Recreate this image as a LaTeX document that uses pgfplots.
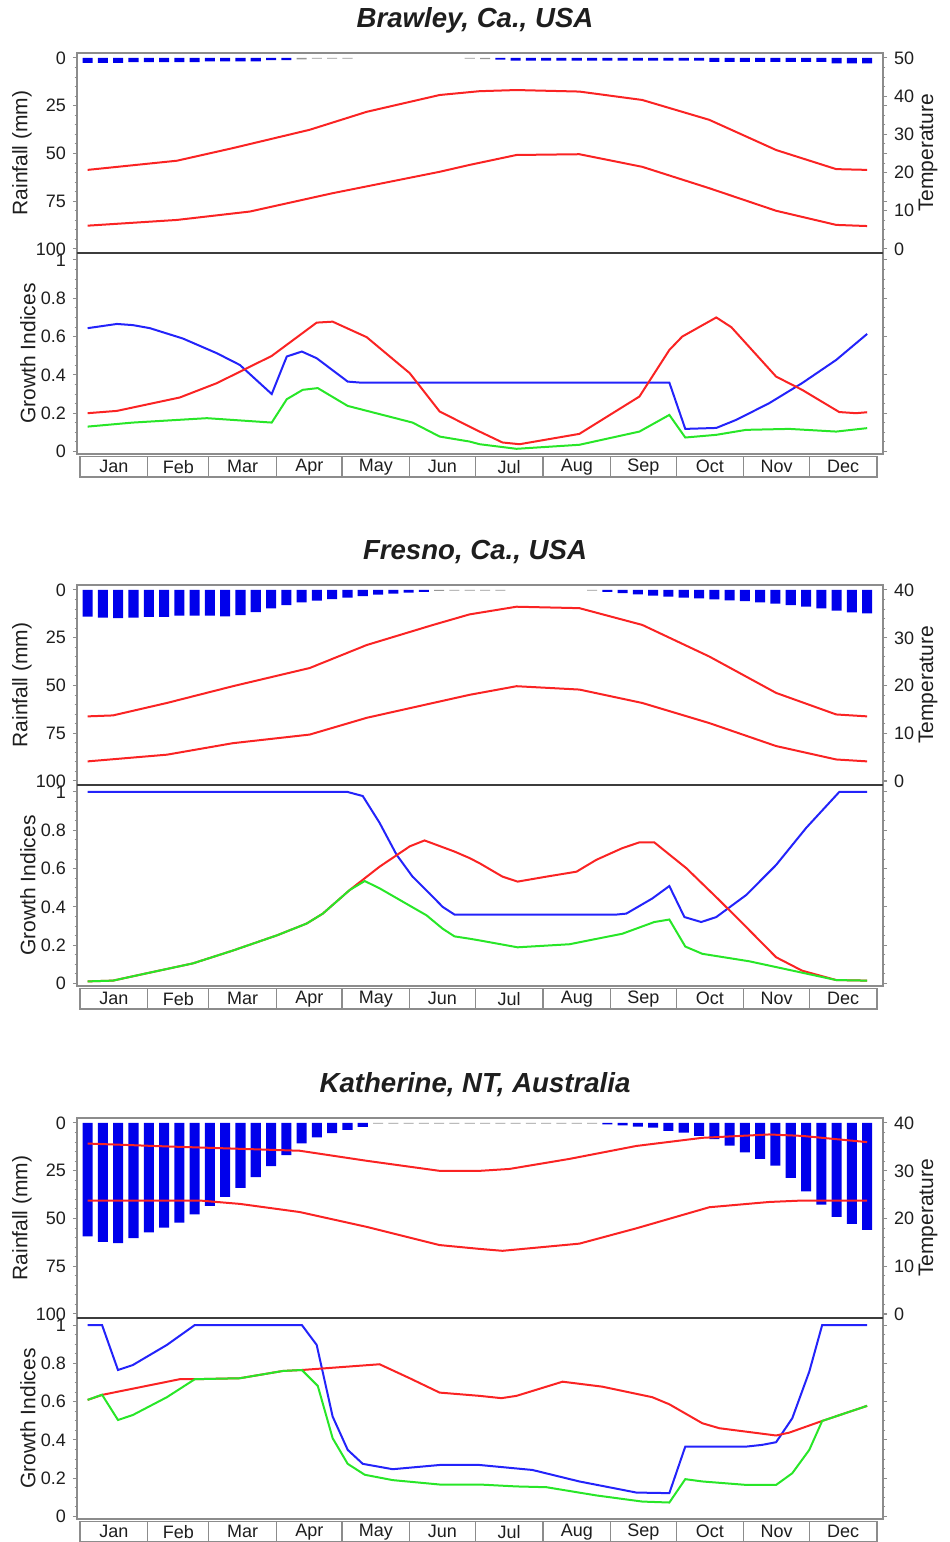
\documentclass[border=0pt]{standalone}
\usepackage{fontspec}
\setmainfont{Liberation Sans}
\usepackage{pgfplots}
\pgfplotsset{compat=1.18}

\definecolor{axgray}{RGB}{140,140,140}
\definecolor{sepcol}{RGB}{60,60,60}
\definecolor{txt}{RGB}{30,30,30}
\definecolor{lred}{RGB}{250,35,35}
\definecolor{lblue}{RGB}{35,35,250}
\definecolor{lgreen}{RGB}{40,230,40}
\definecolor{barblue}{RGB}{0,0,235}
\definecolor{bargray}{RGB}{150,150,150}

\pgfplotsset{
  panelbase/.style={
    scale only axis, width=403pt,
    xmin=-1.37, xmax=367.75, xtick=\empty,
    axis line style={axgray, line width=0.6pt},
    tick style={axgray, line width=0.5pt},
    tick align=outside, major tick length=2pt, minor tick length=1.2pt,
    ticklabel style={font=\fontsize{9}{10}\selectfont, text=txt},
    label style={font=\fontsize{10.5}{12}\selectfont, text=txt},
    /pgf/number format/assume math mode=true,
  },
  rainax/.style={panelbase, height=100pt, y dir=reverse, ymin=-2.6, ymax=102.1,
    ytick={0,25,50,75,100}, minor y tick num=4, ylabel={Rainfall (mm)},
    ylabel style={at={(axis description cs:-0.0682,0.5)}, anchor=center}},
  tempax/.style={panelbase, height=100pt, axis y line*=right, axis x line=none,
    ylabel={Temperature},
    ylabel style={at={(axis description cs:1.056,0.5)}, anchor=center}},
  growax/.style={panelbase, height=100.5pt, ymin=-0.013, ymax=1.0366,
    ytick={0,0.2,0.4,0.6,0.8,1}, minor y tick num=3, ylabel={Growth Indices},
    ylabel style={at={(axis description cs:-0.0608,0.5)}, anchor=center},
    after end axis/.code={\draw[sepcol, line width=0.9pt] (rel axis cs:0,1) -- (rel axis cs:1,1);}},
  monthax/.style={scale only axis, width=398.5pt, height=10.25pt,
    xmin=0, xmax=365, ymin=0, ymax=1,
    xtick={31,59,90,120,151,181,212,243,273,304,334}, xticklabels={},
    xmajorgrids, major tick length=0pt, ytick=\empty,
    grid style={axgray, line width=0.6pt}, axis line style={axgray, line width=0.6pt}},
  barb/.style={ybar, bar width=4.6, bar shift=0pt, fill=barblue, draw=none},
  barg/.style={ybar, bar width=4.6, bar shift=0pt, fill=bargray, draw=none},
  tline/.style={lred, line width=1pt},
  gblue/.style={lblue, line width=1pt},
  gred/.style={lred, line width=1pt},
  ggreen/.style={lgreen, line width=1pt},
  mlab/.style={draw=none, nodes near coords, point meta=explicit symbolic,
    every node near coord/.append style={anchor=center, font=\fontsize{9}{10}\selectfont, text=txt}},
}

\pgfplotstableread{
x y m
15.5 0.5 Jan
45 0.5 Feb
74.5 0.5 Mar
105 0.5 Apr
135.5 0.5 May
166 0.5 Jun
196.5 0.5 Jul
227.5 0.5 Aug
258 0.5 Sep
288.5 0.5 Oct
319 0.5 Nov
349.5 0.5 Dec
}\months

\begin{document}
\begin{tikzpicture}
\useasboundingbox (0,0) rectangle (474.5pt,771pt);

%% ---------------- Brawley ----------------
\node[font=\bfseries\itshape\fontsize{13.8}{16}\selectfont, text=txt] at (237.5pt,761pt) {Brawley, Ca., USA};
\begin{axis}[rainax, at={(38.5pt,744.5pt)}, anchor=north west]
\addplot[barb] coordinates {(3.5,2.6) (10.5,2.6) (17.5,2.6) (24.5,2.2) (31.5,2.2) (38.5,2.2) (45.5,2.2) (52.5,2.2) (59.5,1.8) (66.5,1.8) (73.5,1.8) (80.5,1.8) (87.5,1.2) (94.5,1.2)
 (192.5,0.9) (199.5,1.4) (206.5,1.4) (213.5,1.4) (220.5,1.4) (227.5,1.4) (234.5,1.4) (241.5,1.4) (248.5,1.4) (255.5,1.4) (262.5,1.4) (269.5,1.4) (276.5,1.4) (283.5,1.4)
 (290.5,2.0) (297.5,2.0) (304.5,2.0) (311.5,2.0) (318.5,2.0) (325.5,2.0) (332.5,2.0) (339.5,2.0) (346.5,2.8) (353.5,2.8) (360.5,2.8)};
\addplot[barg] coordinates {(101.5,0.7) (108.5,0.4) (115.5,0.4) (122.5,0.4) (178.5,0.4) (185.5,0.6)};
\end{axis}
\begin{axis}[tempax, at={(38.5pt,744.5pt)}, anchor=north west, ymin=-1.05, ymax=51.3, ytick={0,10,20,30,40,50}]
\addplot[tline] coordinates {(3.5,20.7) (44.4,23.1) (70,26.4) (105.2,31.2) (131.3,35.9) (164.7,40.3) (183,41.3) (199.9,41.6) (228.7,41.2) (257.5,39.0) (288.2,33.8) (318.8,25.9) (346.3,20.9) (360.5,20.7)};
\addplot[tline] coordinates {(3.5,6.1) (44.4,7.6) (77.8,9.8) (115.7,14.6) (164.7,20.2) (178.4,22.0) (199.9,24.6) (228.7,24.8) (257.5,21.5) (288.2,15.9) (318.8,10.0) (346.3,6.3) (360.5,6.0)};
\end{axis}
\begin{axis}[growax, at={(38.5pt,644.5pt)}, anchor=north west]
\addplot[gblue] coordinates {(3.5,0.644) (16.9,0.666) (24.2,0.660) (32,0.644) (47.1,0.590) (62.7,0.513) (73.2,0.452) (87.8,0.300) (94.7,0.496) (101.6,0.522) (108.4,0.487) (122.6,0.365) (128.1,0.360) (269.9,0.360) (277.2,0.118) (291.4,0.123) (300.5,0.165) (315.6,0.252) (330.7,0.357) (346.3,0.478) (360.5,0.614)};
\addplot[gred] coordinates {(3.5,0.200) (16.9,0.212) (45.7,0.282) (62.7,0.357) (87.8,0.499) (108.4,0.673) (115.7,0.678) (131.3,0.597) (151,0.409) (164.7,0.209) (178.4,0.130) (183,0.104) (193.5,0.047) (201.3,0.038) (228.7,0.092) (256.2,0.287) (269.9,0.530) (275.8,0.600) (291.4,0.700) (298.3,0.649) (318.8,0.391) (330.7,0.322) (347.7,0.206) (355.4,0.200) (360.5,0.205)};
\addplot[ggreen] coordinates {(3.5,0.130) (24.2,0.151) (58.1,0.174) (87.8,0.151) (94.7,0.273) (102,0.322) (108.9,0.331) (122.6,0.238) (152.3,0.151) (164.7,0.078) (178.4,0.052) (183,0.038) (199.9,0.014) (228.7,0.035) (256.2,0.104) (269.9,0.191) (277.2,0.073) (291.4,0.087) (305.1,0.113) (324.8,0.118) (346.3,0.104) (360.5,0.122)};
\end{axis}
\begin{axis}[monthax, at={(40pt,542.75pt)}, anchor=north west]
\addplot[mlab] table[meta=m] {\months};
\end{axis}

%% ---------------- Fresno ----------------
\node[font=\bfseries\itshape\fontsize{13.8}{16}\selectfont, text=txt] at (237.5pt,495pt) {Fresno, Ca., USA};
\begin{axis}[rainax, at={(38.5pt,478.5pt)}, anchor=north west]
\addplot[barb] coordinates {(3.5,14.0) (10.5,14.5) (17.5,14.8) (24.5,14.5) (31.5,14.1) (38.5,14.1) (45.5,13.4) (52.5,13.4) (59.5,13.4) (66.5,13.8) (73.5,13.2) (80.5,11.6) (87.5,9.6) (94.5,8.0) (101.5,6.5) (108.5,5.6) (115.5,4.8) (122.5,4.0) (129.5,3.2) (136.5,2.5) (143.5,1.9) (150.5,1.4) (157.5,1.0)
 (241.5,1.0) (248.5,1.7) (255.5,2.3) (262.5,3.0) (269.5,3.5) (276.5,4.0) (283.5,4.4) (290.5,4.9) (297.5,5.4) (304.5,5.9) (311.5,6.5) (318.5,7.2) (325.5,7.9) (332.5,8.7) (339.5,9.6) (346.5,10.8) (353.5,11.7) (360.5,12.2)};
\addplot[barg] coordinates {(164.5,0.5) (171.5,0.4) (178.5,0.3) (185.5,0.3) (192.5,0.3) (234.5,0.3)};
\end{axis}
\begin{axis}[tempax, at={(38.5pt,478.5pt)}, anchor=north west, ymin=-0.73, ymax=41.04, ytick={0,10,20,30,40}]
\addplot[tline] coordinates {(3.5,13.6) (15.1,13.8) (39.8,16.4) (70,19.9) (105.2,23.7) (131.3,28.5) (161.7,32.7) (178.4,34.9) (199.9,36.5) (228.7,36.2) (257.5,32.7) (288.2,26.1) (318.8,18.5) (346.3,14.0) (360.5,13.6)};
\addplot[tline] coordinates {(3.5,4.2) (39.8,5.6) (70,8.0) (105.2,9.8) (131.3,13.3) (161.7,16.4) (178.4,18.1) (199.9,19.9) (228.7,19.2) (257.5,16.4) (288.2,12.2) (318.8,7.4) (346.3,4.6) (360.5,4.2)};
\end{axis}
\begin{axis}[growax, at={(38.5pt,378.5pt)}, anchor=north west]
\addplot[gblue] coordinates {(3.5,1.0) (122.6,1.0) (129.5,0.979) (137.2,0.839) (145,0.672) (152.3,0.558) (160.1,0.470) (166.1,0.400) (171.5,0.360) (245.7,0.360) (250.2,0.365) (262.1,0.444) (269.9,0.509) (276.8,0.347) (284.5,0.321) (291.4,0.347) (305.1,0.462) (318.8,0.619) (332.6,0.813) (347.7,1.0) (360.5,1.0)};
\addplot[gred] coordinates {(3.5,0.011) (15.1,0.015) (28.8,0.049) (51.7,0.105) (70,0.172) (90.1,0.251) (103.8,0.313) (111.2,0.365) (123.5,0.488) (137.2,0.610) (151,0.716) (157.8,0.747) (171.5,0.689) (178.4,0.655) (183,0.628) (193.5,0.558) (200.4,0.532) (213.6,0.558) (227.4,0.584) (236.5,0.646) (248.4,0.707) (256.2,0.737) (263,0.737) (277.7,0.602) (292.8,0.435) (305.1,0.295) (318.8,0.137) (330.7,0.067) (346.3,0.018) (360.5,0.015)};
\addplot[ggreen] coordinates {(3.5,0.011) (15.1,0.015) (28.8,0.049) (51.7,0.105) (70,0.172) (90.1,0.251) (103.8,0.313) (111.2,0.365) (123.5,0.488) (130.4,0.535) (137.2,0.497) (158.7,0.356) (166.1,0.286) (171.5,0.246) (178.4,0.234) (183,0.225) (200.4,0.189) (224.2,0.205) (248.4,0.260) (263,0.321) (269.9,0.334) (277.2,0.193) (285,0.155) (306.5,0.116) (324.8,0.071) (346.3,0.018) (360.5,0.015)};
\end{axis}
\begin{axis}[monthax, at={(40pt,276.75pt)}, anchor=north west]
\addplot[mlab] table[meta=m] {\months};
\end{axis}

%% ---------------- Katherine ----------------
\node[font=\bfseries\itshape\fontsize{13.8}{16}\selectfont, text=txt] at (237.5pt,228.5pt) {Katherine, NT, Australia};
\begin{axis}[rainax, at={(38.5pt,212pt)}, anchor=north west]
\addplot[barb] coordinates {(3.5,59.4) (10.5,62.3) (17.5,62.9) (24.5,60.3) (31.5,57.3) (38.5,54.8) (45.5,52.2) (52.5,47.8) (59.5,43.4) (66.5,38.7) (73.5,34.0) (80.5,28.3) (87.5,22.6) (94.5,16.8) (101.5,10.7) (108.5,7.6) (115.5,5.3) (122.5,3.6) (129.5,2.0)
 (241.5,0.8) (248.5,1.2) (255.5,1.9) (262.5,2.4) (269.5,4.1) (276.5,5.0) (283.5,6.7) (290.5,8.5) (297.5,11.9) (304.5,15.4) (311.5,18.8) (318.5,22.3) (325.5,28.8) (332.5,35.8) (339.5,42.7) (346.5,49.1) (353.5,52.8) (360.5,56.0)};
\addplot[barg] coordinates {(136.5,0.3) (143.5,0.3) (150.5,0.3) (157.5,0.3) (164.5,0.3) (171.5,0.3) (178.5,0.3) (185.5,0.3) (192.5,0.3) (199.5,0.3) (206.5,0.3) (213.5,0.3) (220.5,0.3) (227.5,0.3) (234.5,0.3)};
\end{axis}
\begin{axis}[tempax, at={(38.5pt,212pt)}, anchor=north west, ymin=-0.73, ymax=41.04, ytick={0,10,20,30,40}]
\addplot[tline] coordinates {(3.5,35.7) (39.8,35.1) (100.6,34.2) (131.3,32.1) (164.7,30.0) (183,30.0) (196.7,30.4) (224.2,32.5) (254.8,35.2) (285,36.9) (315.6,37.6) (330.7,37.3) (360.5,36.0)};
\addplot[tline] coordinates {(3.5,23.8) (54.9,23.8) (73.2,23.1) (100.6,21.4) (131.3,18.3) (164.7,14.5) (183,13.7) (193.5,13.3) (228.7,14.8) (254.8,18.0) (288.2,22.4) (315.6,23.5) (330.7,23.8) (360.5,23.8)};
\end{axis}
\begin{axis}[growax, at={(38.5pt,112pt)}, anchor=north west]
\addplot[gblue] coordinates {(3.5,1.0) (10.1,1.0) (17.4,0.765) (24.2,0.791) (39.8,0.896) (52.6,1.0) (101.6,1.0) (108.4,0.896) (115.7,0.522) (122.6,0.348) (129.5,0.275) (143.2,0.247) (164.7,0.269) (183,0.269) (207.2,0.243) (228.7,0.183) (254.8,0.125) (269.9,0.122) (277.2,0.365) (305.1,0.365) (312.4,0.374) (318.8,0.388) (326.2,0.513) (334,0.757) (339.9,1.0) (360.5,1.0)};
\addplot[gred] coordinates {(3.5,0.609) (10.5,0.636) (45.7,0.717) (52.6,0.717) (73.2,0.722) (92.9,0.760) (101.6,0.765) (137.2,0.795) (151,0.722) (164.7,0.647) (183,0.630) (193,0.618) (199.9,0.630) (221,0.704) (239.2,0.678) (262.1,0.623) (269.9,0.586) (285,0.487) (292.8,0.461) (318.8,0.423) (324.8,0.438) (339.9,0.499) (360.5,0.578)};
\addplot[ggreen] coordinates {(3.5,0.609) (10.1,0.636) (17.4,0.504) (24.2,0.530) (39.8,0.623) (52.6,0.717) (73.2,0.722) (92.9,0.760) (101.6,0.765) (108.9,0.682) (115.7,0.409) (122.6,0.275) (130.4,0.218) (143.2,0.190) (164.7,0.167) (183,0.167) (199.9,0.157) (213.6,0.153) (236.5,0.110) (257.5,0.078) (269.9,0.073) (277.2,0.195) (285,0.183) (305.1,0.165) (318.8,0.165) (326.2,0.226) (334,0.348) (339.9,0.499) (360.5,0.578)};
\end{axis}
\begin{axis}[monthax, at={(40pt,10.25pt)}, anchor=north west]
\addplot[mlab] table[meta=m] {\months};
\end{axis}
\end{tikzpicture}
\end{document}
